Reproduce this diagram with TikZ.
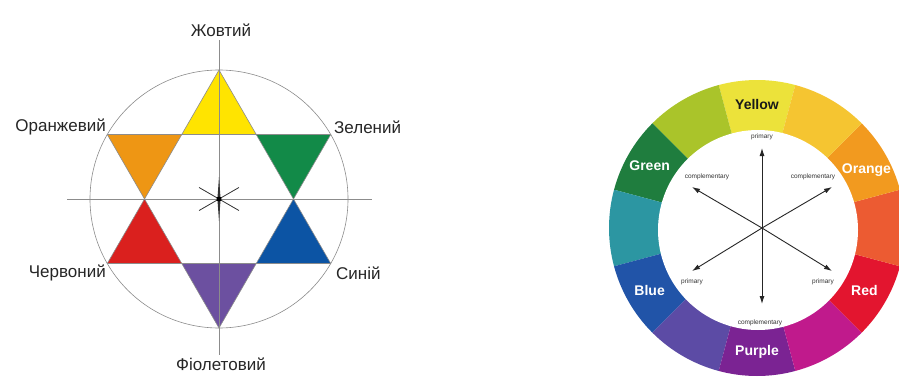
\documentclass[tikz,border=0pt]{standalone}
\usepackage{fontspec}
\setmainfont{Liberation Sans}
\usetikzlibrary{arrows.meta}
\definecolor{tYellow}{RGB}{255,228,0}
\definecolor{tOrange}{RGB}{238,150,20}
\definecolor{tGreen}{RGB}{18,138,72}
\definecolor{tBlue}{RGB}{12,84,164}
\definecolor{tPurple}{RGB}{108,80,160}
\definecolor{tRed}{RGB}{218,32,30}
\definecolor{wY}{RGB}{236,226,58}
\definecolor{wYG}{RGB}{170,196,42}
\definecolor{wG}{RGB}{31,125,62}
\definecolor{wT}{RGB}{44,150,162}
\definecolor{wB}{RGB}{33,84,168}
\definecolor{wBV}{RGB}{92,75,165}
\definecolor{wP}{RGB}{123,35,147}
\definecolor{wM}{RGB}{192,26,140}
\definecolor{wR}{RGB}{227,21,47}
\definecolor{wRO}{RGB}{236,91,50}
\definecolor{wO}{RGB}{242,154,31}
\definecolor{wYO}{RGB}{245,197,49}
\begin{document}
\begin{tikzpicture}[x=1pt,y=1pt,
  guide/.style={draw=black!45, line width=0.6pt},
  huename/.style={font=\fontsize{17}{19}\selectfont, text=black!85, inner sep=0pt},
  wheelname/.style={font=\bfseries\fontsize{14}{16}\selectfont, text=white, inner sep=0pt},
  tiny/.style={font=\fontsize{6.5}{7}\selectfont, text=black!80, inner sep=0pt},
  ray/.style={-{Latex[length=8pt,width=5pt]}, line width=0.9pt, draw=black!85}]
\useasboundingbox (0,0) rectangle (899,376);
\fill[white] (0,0) rectangle (899,376);

\begin{scope}[shift={(219,177)}]
\coordinate (mid) at (0,0);
\fill[tYellow] (90:129) -- (60:74.5) -- (120:74.5) -- cycle;
\fill[tGreen] (30:129) -- (0:74.5) -- (60:74.5) -- cycle;
\fill[tBlue] (-30:129) -- (0:74.5) -- (-60:74.5) -- cycle;
\fill[tPurple] (270:129) -- (240:74.5) -- (300:74.5) -- cycle;
\fill[tRed] (210:129) -- (180:74.5) -- (240:74.5) -- cycle;
\fill[tOrange] (150:129) -- (120:74.5) -- (180:74.5) -- cycle;
\draw[guide] (mid) circle[radius=129];
\draw[guide] (90:129) -- (210:129) -- (330:129) -- cycle;
\draw[guide] (30:129) -- (150:129) -- (270:129) -- cycle;
\draw[guide] (0,159) -- (0,-156);
\draw[guide] (-152,0) -- (153,0);
\draw[line width=0.8pt, black!80] (30:23) -- (210:23) (150:23) -- (-30:23);
\fill[black!80] (0,22) -- (1.6,0) -- (0,-22) -- (-1.6,0) -- cycle;
\fill[black] (mid) circle[radius=2.5];
\node[huename] (yel) at (2,169) {Жовтий};
\node[huename, anchor=east] (ora) at (-113,72) {Оранжевий};
\node[huename, anchor=west] (gre) at (115,72) {Зелений};
\node[huename, anchor=east] (red) at (-113,-74) {Червоний};
\node[huename, anchor=west] (blu) at (117,-74) {Синій};
\node[huename] (vio) at (2,-165) {Фіолетовий};
\end{scope}

\begin{scope}[shift={(757,148)}]
\foreach \a/\c in {90/wY, 120/wYG, 150/wG, 180/wT, 210/wB, 240/wBV, 270/wP, 300/wM, 330/wR, 0/wRO, 30/wO, 60/wYO}
  \fill[\c] (0,0) -- (\a-15:148) arc[start angle=\a-15, end angle=\a+15, radius=148] -- cycle;
\fill[white] (1,-2) circle[radius=100];
\node[wheelname, text=black!90] (wyel) at (90:124) {Yellow};
\node[wheelname] (wgre) at (150:124) {Green};
\node[wheelname] (wora) at (28:124) {Orange};
\node[wheelname] (wblu) at (210:124) {Blue};
\node[wheelname] (wred) at (330:124) {Red};
\node[wheelname] (wpur) at (270:124) {Purple};
\coordinate (hub) at (5,0);
\coordinate (up) at (5,80);
\coordinate (down) at (5,-76);
\coordinate (ul) at (-65,41);
\coordinate (ur) at (75,41);
\coordinate (dl) at (-65,-43);
\coordinate (dr) at (75,-43);
\draw[ray] (hub) -- (up);
\draw[ray] (hub) -- (down);
\draw[ray] (hub) -- (ul);
\draw[ray] (hub) -- (ur);
\draw[ray] (hub) -- (dl);
\draw[ray] (hub) -- (dr);
\node[tiny] (pup) at (5,91) {primary};
\node[tiny] (cul) at (-50,51) {complementary};
\node[tiny] (cur) at (56,51) {complementary};
\node[tiny] (pdl) at (-65,-54) {primary};
\node[tiny] (pdr) at (66,-54) {primary};
\node[tiny] (cdn) at (3,-95) {complementary};
\end{scope}
\end{tikzpicture}
\end{document}
